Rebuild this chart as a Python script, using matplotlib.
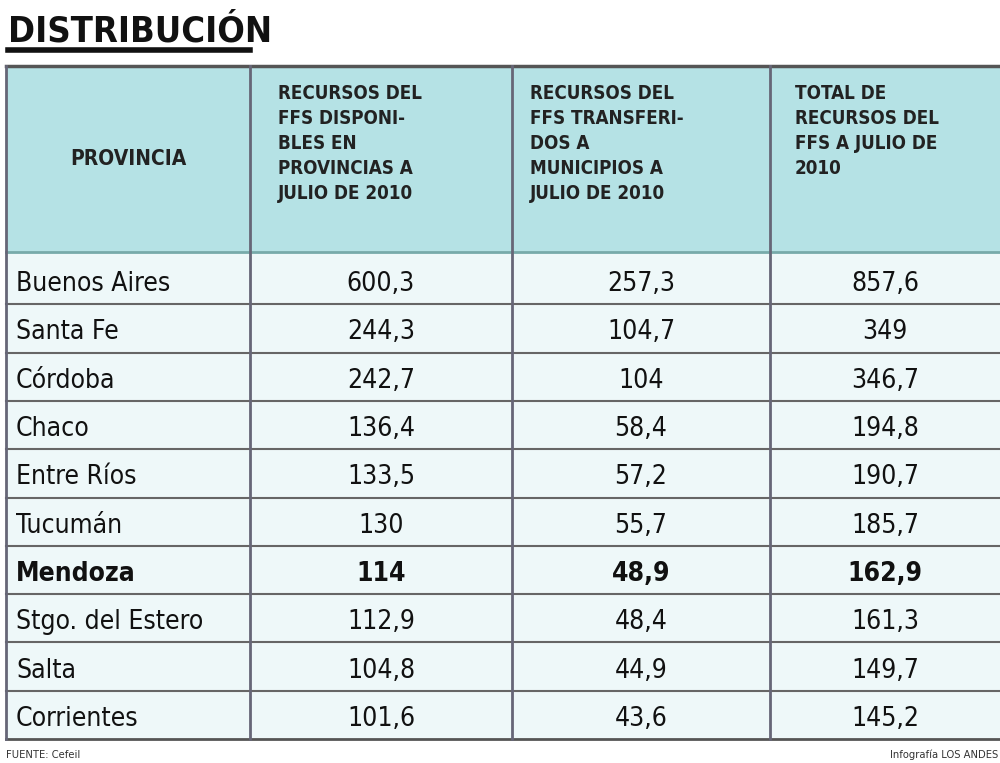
import matplotlib.pyplot as plt

# Data
provincias = ["Buenos Aires", "Santa Fe", "Córdoba", "Chaco", "Entre Ríos", "Tucumán",
              "Mendoza", "Stgo. del Estero", "Salta", "Corrientes"]
disponibles = ["600,3", "244,3", "242,7", "136,4", "133,5", "130", "114", "112,9", "104,8", "101,6"]
transferidos = ["257,3", "104,7", "104", "58,4", "57,2", "55,7", "48,9", "48,4", "44,9", "43,6"]
totales = ["857,6", "349", "346,7", "194,8", "190,7", "185,7", "162,9", "161,3", "149,7", "145,2"]
headers = ["PROVINCIA",
           "RECURSOS DEL\nFFS DISPONI-\nBLES EN\nPROVINCIAS A\nJULIO DE 2010",
           "RECURSOS DEL\nFFS TRANSFERI-\nDOS A\nMUNICIPIOS A\nJULIO DE 2010",
           "TOTAL DE\nRECURSOS DEL\nFFS A JULIO DE\n2010"]
highlight = "Mendoza"

fig = plt.figure(figsize=(10, 7.63), dpi=100)
ax = fig.add_axes([0, 0, 1, 1])
ax.set_xlim(0, 1000)
ax.set_ylim(763, 0)
ax.axis("off")

FONT = dict(family="DejaVu Sans", stretch="condensed")
col_x = [6, 250, 512, 770, 1000]
top, head_bot = 66, 252
row_h = 48.3

# Title
ax.text(8, 42, "DISTRIBUCIÓN", fontsize=26, fontweight="bold", color="#111", **FONT)
ax.plot([8, 250], [50, 50], color="#111", lw=4)

# Backgrounds
ax.add_patch(plt.Rectangle((col_x[0], top), col_x[-1] - col_x[0], head_bot - top,
                           color="#b5e2e5", zorder=0))
n = len(provincias)
ax.add_patch(plt.Rectangle((col_x[0], head_bot), col_x[-1] - col_x[0], n * row_h + 4,
                           color="#eef8f9", zorder=0))

# Grid lines
bot = head_bot + 4 + n * row_h
ax.plot([col_x[0], col_x[-1]], [top, top], color="#555", lw=2.5)
ax.plot([col_x[0], col_x[-1]], [head_bot, head_bot], color="#7aa", lw=2)
for i in range(1, n):
    y = head_bot + 4 + i * row_h
    ax.plot([col_x[0], col_x[-1]], [y, y], color="#666", lw=1.5)
ax.plot([col_x[0], col_x[-1]], [bot, bot], color="#555", lw=2)
for x in col_x[:-1]:
    ax.plot([x, x], [top, bot], color="#667", lw=2)

# Header text
ax.text((col_x[0] + col_x[1]) / 2, (top + head_bot) / 2, headers[0], fontsize=15,
        fontweight="bold", ha="center", va="center", color="#222", **FONT)
for j, dx in zip(range(1, 4), [28, 18, 25]):
    ax.text(col_x[j] + dx, top + 18, headers[j], fontsize=13.5, fontweight="bold",
            ha="left", va="top", color="#222", linespacing=1.4, **FONT)

# Body
for i, (p, a, b, c) in enumerate(zip(provincias, disponibles, transferidos, totales)):
    y = head_bot + 8 + (i + 0.5) * row_h
    w = "bold" if p == highlight else "normal"
    ax.text(col_x[0] + 10, y, p, fontsize=19, fontweight=w, va="center", color="#111", **FONT)
    for j, v in enumerate([a, b, c], start=1):
        ax.text((col_x[j] + col_x[j + 1]) / 2, y, v, fontsize=19, fontweight=w,
                ha="center", va="center", color="#111", **FONT)

# Footer
ax.text(6, 755, "FUENTE: Cefeil", fontsize=8, color="#333", va="center", **FONT)
ax.text(998, 755, "Infografía LOS ANDES", fontsize=8, color="#333", va="center", ha="right", **FONT)

fig.savefig("out.png", dpi=100)
